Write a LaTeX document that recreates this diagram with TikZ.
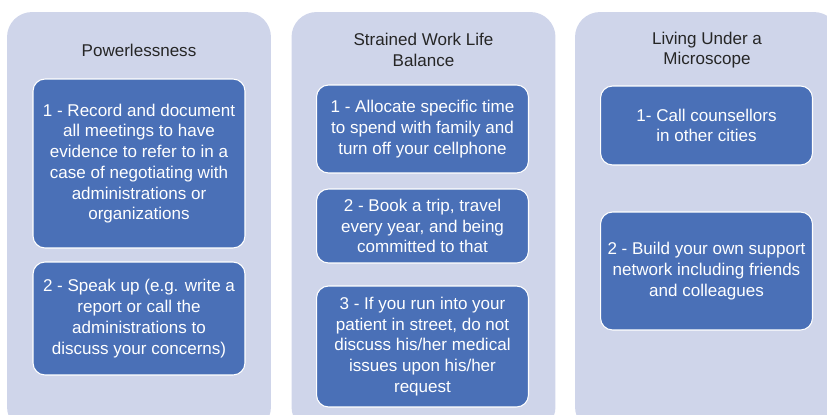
\documentclass[tikz,border=0pt]{standalone}
\usepackage{fontspec}
\setmainfont{Liberation Sans}
\definecolor{panelbg}{HTML}{CFD5EA}
\definecolor{tipblue}{HTML}{4A70B7}
\definecolor{headtext}{HTML}{262626}
\begin{document}
\begin{tikzpicture}[x=0.02cm,y=-0.02cm]
		\tikzset{panel/.style = {shape=rectangle, fill=panelbg, rounded corners=0.5cm, minimum width=5.28cm, minimum height=8.4cm, inner sep=0pt},
			head/.style = {align=center, text=headtext, font=\fontsize{9.7}{11.8}\selectfont},
			tip/.style = {shape=rectangle, fill=tipblue, draw=white, line width=0.6pt, rounded corners=0.24cm, minimum width=4.24cm, inner sep=0pt, align=center, text=white, font=\fontsize{9.7}{11.8}\selectfont}}

		\useasboundingbox (0,0) rectangle (827,415);

		\node[panel] (P_1) at (139,222) {};
		\node[panel] (P_2) at (423.5,222) {};
		\node[panel] (P_3) at (707,222) {};

		\node[head] (H_1) at (139,50) {Powerlessness};
		\node[head] (H_2) at (423.5,50) {Strained Work Life\\Balance};
		\node[head] (H_3) at (707,50) {Living Under a\\Microscope};

		\node[tip, minimum height=3.38cm] (A_1) at (139,163.5) {1 - Record and document\\all meetings to have\\evidence to refer to in a\\case of negotiating with\\administrations or\\organizations};
		\node[tip, minimum height=2.26cm] (A_2) at (139,318.5) {2 - Speak up (e.g. write a\\report or call the\\administrations to\\discuss your concerns)};

		\node[tip, minimum height=1.76cm] (B_1) at (422.5,129) {1 - Allocate specific time\\to spend with family and\\turn off your cellphone};
		\node[tip, minimum height=1.48cm] (B_2) at (422.5,226) {2 - Book a trip, travel\\every year, and being\\committed to that};
		\node[tip, minimum height=2.42cm] (B_3) at (422.5,346.5) {3 - If you run into your\\patient in street, do not\\discuss his/her medical\\issues upon his/her\\request};

		\node[tip, minimum height=1.58cm] (C_1) at (706.5,125.5) {1- Call counsellors\\in other cities};
		\node[tip, minimum height=2.36cm] (C_2) at (706.5,271) {2 - Build your own support\\network including friends\\and colleagues};

	\end{tikzpicture}
\end{document}
